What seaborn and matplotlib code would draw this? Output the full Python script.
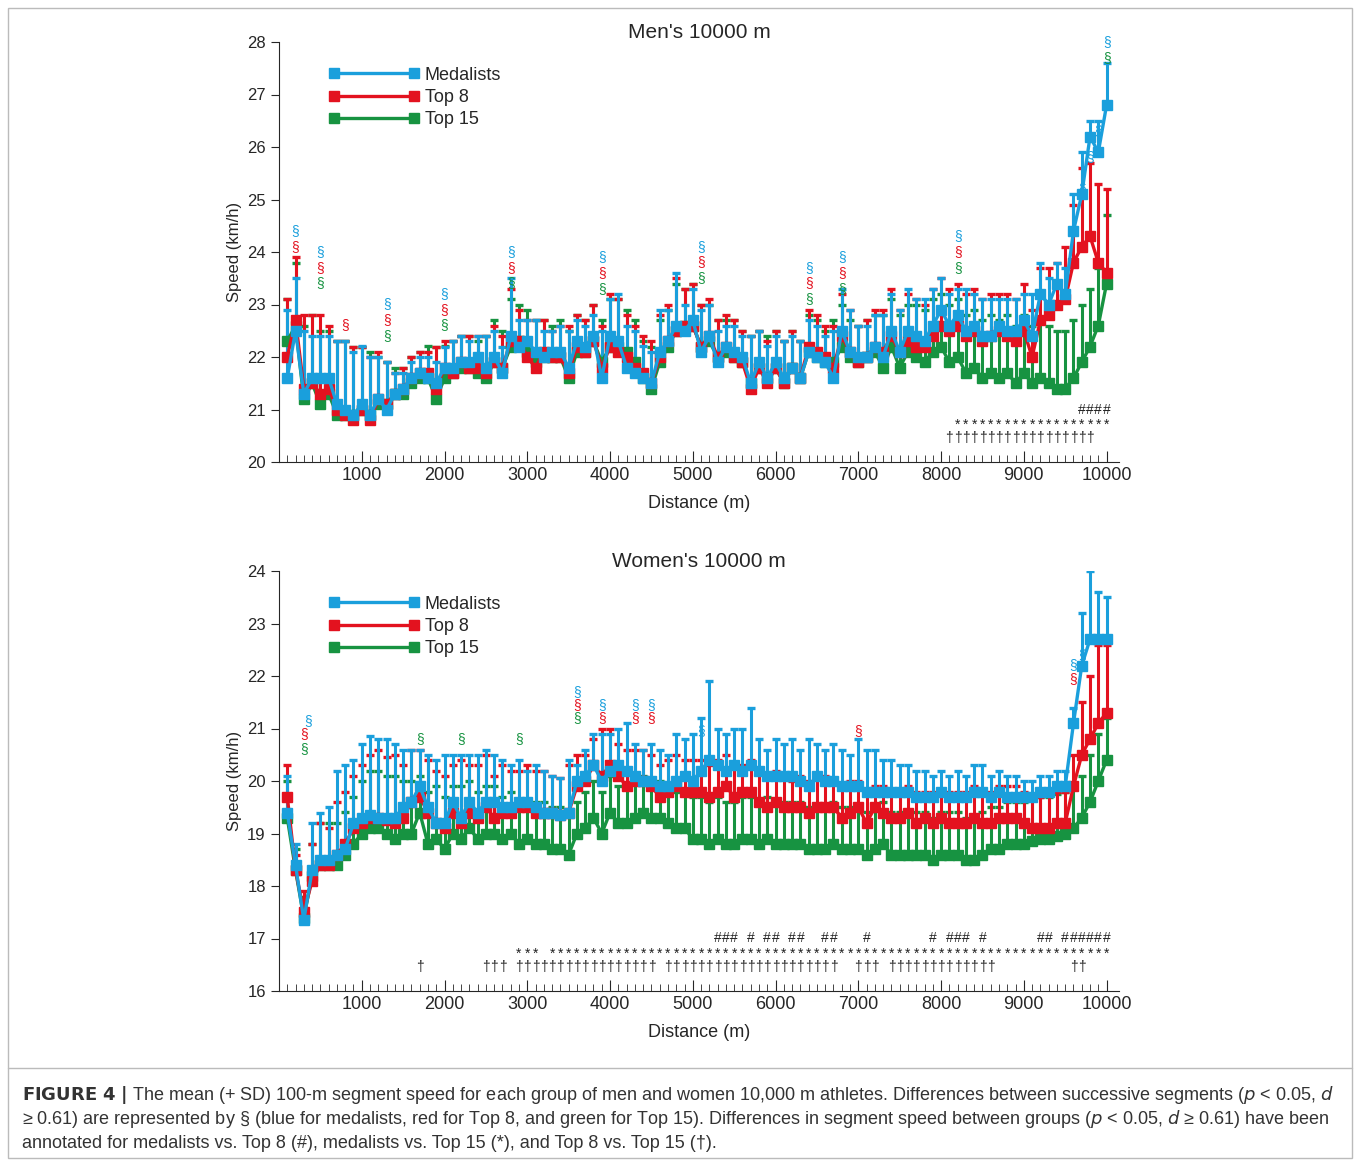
import numpy as np
import matplotlib
matplotlib.use("Agg")
import matplotlib.pyplot as plt
import seaborn as sns
from matplotlib.patches import Rectangle

# =============================
# DATA
# =============================
distance = list(range(100, 10001, 100))

men_med = [21.6, 22.5, 21.3, 21.6, 21.6, 21.6, 21.1, 21.0, 20.9, 21.1,
           20.9, 21.2, 21.0, 21.3, 21.4, 21.6, 21.7, 21.6, 21.5, 21.8,
           21.8, 21.9, 21.9, 22.0, 21.8, 22.0, 21.7, 22.4, 22.2, 22.3,
           22.1, 22.0, 22.1, 22.1, 21.8, 22.3, 22.2, 22.4, 21.6, 22.4,
           22.3, 21.8, 21.7, 21.6, 21.5, 22.1, 22.3, 22.6, 22.5, 22.7,
           22.1, 22.4, 21.9, 22.2, 22.1, 22.0, 21.5, 21.9, 21.6, 21.9,
           21.6, 21.8, 21.6, 22.1, 22.0, 21.9, 21.6, 22.5, 22.1, 22.0,
           22.0, 22.2, 22.0, 22.5, 22.1, 22.5, 22.4, 22.3, 22.6, 22.9,
           22.6, 22.8, 22.5, 22.6, 22.4, 22.4, 22.6, 22.5, 22.5, 22.7,
           22.4, 23.2, 23.0, 23.4, 23.2, 24.4, 25.1, 26.2, 25.9, 26.8]
men_top8 = [22.0, 22.7, 21.4, 21.5, 21.3, 21.4, 21.0, 20.9, 20.8, 21.0,
            20.8, 21.2, 21.1, 21.3, 21.4, 21.6, 21.7, 21.7, 21.4, 21.8,
            21.7, 21.9, 21.8, 21.8, 21.7, 21.9, 21.8, 22.3, 22.3, 22.0,
            21.8, 22.1, 22.0, 22.0, 21.7, 22.2, 22.1, 22.3, 21.8, 22.2,
            22.1, 22.0, 21.8, 21.7, 21.5, 22.0, 22.3, 22.5, 22.6, 22.6,
            22.2, 22.4, 22.0, 22.2, 22.0, 21.9, 21.4, 21.8, 21.5, 21.8,
            21.5, 21.8, 21.6, 22.2, 22.1, 22.0, 21.8, 22.4, 22.1, 21.9,
            22.0, 22.2, 22.1, 22.4, 22.1, 22.3, 22.2, 22.2, 22.4, 22.6,
            22.5, 22.6, 22.4, 22.5, 22.3, 22.4, 22.5, 22.4, 22.3, 22.5,
            22.0, 22.7, 22.8, 23.0, 23.1, 23.8, 24.1, 24.3, 23.8, 23.6]
men_top15 = [22.3, 22.6, 21.2, 21.5, 21.1, 21.3, 20.9, 20.9, 20.9, 21.0,
             20.9, 21.1, 21.1, 21.3, 21.3, 21.5, 21.6, 21.6, 21.2, 21.6,
             21.7, 21.8, 21.8, 21.7, 21.6, 21.9, 21.8, 22.2, 22.3, 22.1,
             21.9, 22.0, 22.0, 22.0, 21.6, 22.1, 22.1, 22.3, 21.9, 22.2,
             22.2, 22.1, 21.9, 21.6, 21.4, 21.9, 22.2, 22.5, 22.6, 22.6,
             22.2, 22.3, 22.0, 22.1, 22.0, 21.9, 21.5, 21.8, 21.6, 21.8,
             21.5, 21.8, 21.6, 22.1, 22.0, 21.9, 21.9, 22.2, 22.0, 21.9,
             22.0, 22.1, 21.8, 22.2, 21.8, 22.1, 22.0, 21.9, 22.1, 22.2,
             21.9, 22.0, 21.7, 21.8, 21.6, 21.7, 21.6, 21.7, 21.5, 21.7,
             21.5, 21.6, 21.5, 21.4, 21.4, 21.6, 21.9, 22.2, 22.6, 23.4]
men_sd_med = [1.3, 1.0, 1.2, 0.8, 0.8, 0.8, 1.2, 1.3, 1.2, 1.1,
              1.1, 0.8, 0.9, 0.4, 0.3, 0.3, 0.3, 0.4, 0.4, 0.4,
              0.5, 0.5, 0.4, 0.4, 0.6, 0.5, 0.5, 1.1, 0.5, 0.4,
              0.6, 0.5, 0.4, 0.5, 0.7, 0.4, 0.4, 0.4, 0.9, 0.7,
              0.9, 0.8, 0.8, 0.6, 0.6, 0.8, 0.6, 1.0, 0.5, 0.6,
              0.8, 0.6, 0.6, 0.4, 0.5, 0.4, 0.9, 0.6, 0.6, 0.5,
              0.7, 0.6, 0.7, 0.6, 0.6, 0.5, 0.9, 0.8, 0.8, 0.6,
              0.6, 0.6, 0.8, 0.7, 0.8, 0.8, 0.7, 0.8, 0.7, 0.6,
              0.6, 0.5, 0.8, 0.6, 0.7, 0.7, 0.5, 0.6, 0.6, 0.5,
              0.8, 0.6, 0.5, 0.4, 0.5, 0.7, 0.8, 0.3, 0.6, 0.8]
men_sd_top8 = [1.1, 1.2, 1.4, 1.3, 1.5, 1.2, 1.3, 1.4, 1.4, 1.2,
               1.2, 0.9, 0.8, 0.4, 0.4, 0.4, 0.4, 0.4, 0.8, 0.5,
               0.6, 0.5, 0.6, 0.6, 0.7, 0.7, 0.6, 1.0, 0.6, 0.7,
               0.9, 0.6, 0.5, 0.6, 0.9, 0.6, 0.6, 0.7, 0.8, 1.0,
               1.0, 0.8, 0.8, 0.7, 0.8, 0.8, 0.7, 1.0, 0.7, 0.8,
               0.8, 0.7, 0.7, 0.6, 0.7, 0.6, 1.0, 0.7, 0.8, 0.7,
               0.8, 0.7, 0.7, 0.7, 0.7, 0.6, 0.8, 0.8, 0.8, 0.7,
               0.7, 0.7, 0.8, 0.9, 0.8, 0.9, 0.9, 0.8, 0.9, 0.9,
               0.8, 0.8, 0.8, 0.8, 0.8, 0.8, 0.7, 0.8, 0.8, 0.9,
               0.9, 1.0, 0.9, 0.8, 1.0, 1.1, 1.5, 1.4, 1.5, 1.6]
men_sd_top15 = [0.8, 1.2, 1.4, 1.3, 1.4, 1.2, 1.4, 1.4, 1.3, 1.2,
                1.2, 0.9, 0.8, 0.5, 0.5, 0.5, 0.5, 0.6, 1.0, 0.6,
                0.6, 0.6, 0.6, 0.6, 0.8, 0.8, 0.7, 0.9, 0.7, 0.8,
                0.8, 0.7, 0.6, 0.7, 0.9, 0.7, 0.6, 0.7, 0.8, 0.9,
                0.9, 0.8, 0.8, 0.7, 0.8, 0.8, 0.7, 0.9, 0.7, 0.8,
                0.8, 0.7, 0.7, 0.6, 0.7, 0.6, 0.9, 0.7, 0.8, 0.7,
                0.8, 0.7, 0.7, 0.7, 0.7, 0.6, 0.8, 0.8, 0.7, 0.7,
                0.7, 0.7, 1.0, 0.9, 1.0, 0.9, 1.0, 1.0, 1.0, 1.0,
                1.1, 1.1, 1.1, 1.1, 1.1, 1.1, 1.1, 1.1, 1.1, 1.1,
                1.1, 1.1, 1.1, 1.1, 1.1, 1.1, 1.1, 1.1, 1.1, 1.3]

women_med = [19.4, 18.4, 17.35, 18.3, 18.5, 18.5, 18.6, 18.7, 19.2, 19.3,
             19.35, 19.3, 19.3, 19.3, 19.5, 19.6, 19.9, 19.5, 19.2, 19.2,
             19.6, 19.3, 19.6, 19.4, 19.6, 19.6, 19.5, 19.5, 19.6, 19.6,
             19.5, 19.4, 19.4, 19.35, 19.4, 20.0, 20.1, 20.3, 20.0, 20.2,
             20.3, 20.2, 20.1, 20.0, 20.0, 19.9, 19.9, 20.0, 20.1, 20.0,
             20.2, 20.4, 20.3, 20.2, 20.3, 20.2, 20.3, 20.2, 20.1, 20.1,
             20.1, 20.1, 20.0, 19.9, 20.1, 20.0, 20.0, 19.9, 19.9, 19.9,
             19.8, 19.8, 19.8, 19.8, 19.8, 19.8, 19.7, 19.7, 19.7, 19.8,
             19.7, 19.7, 19.7, 19.8, 19.8, 19.7, 19.8, 19.7, 19.7, 19.7,
             19.7, 19.8, 19.8, 19.9, 19.9, 21.1, 22.2, 22.7, 22.7, 22.7]
women_top8 = [19.7, 18.3, 17.5, 18.1, 18.4, 18.4, 18.6, 18.8, 19.1, 19.2,
              19.3, 19.3, 19.25, 19.2, 19.3, 19.6, 19.7, 19.4, 19.2, 19.1,
              19.4, 19.2, 19.4, 19.3, 19.5, 19.3, 19.4, 19.4, 19.5, 19.5,
              19.4, 19.4, 19.4, 19.35, 19.4, 19.9, 20.0, 20.3, 20.1, 20.3,
              20.1, 19.9, 20.0, 20.0, 19.9, 19.7, 19.8, 19.9, 19.8, 19.8,
              19.8, 19.7, 19.8, 19.9, 19.7, 19.8, 19.8, 19.6, 19.5, 19.6,
              19.5, 19.5, 19.5, 19.4, 19.5, 19.5, 19.5, 19.3, 19.4, 19.5,
              19.2, 19.5, 19.4, 19.3, 19.3, 19.4, 19.2, 19.3, 19.2, 19.3,
              19.2, 19.2, 19.2, 19.3, 19.2, 19.2, 19.3, 19.3, 19.3, 19.2,
              19.1, 19.1, 19.1, 19.2, 19.2, 19.9, 20.5, 20.8, 21.1, 21.3]
women_top15 = [19.3, 18.3, 17.4, 18.2, 18.4, 18.4, 18.4, 18.6, 18.8, 19.0,
               19.1, 19.1, 19.0, 18.9, 19.0, 19.0, 19.4, 18.8, 18.9, 18.7,
               19.0, 18.9, 19.1, 18.9, 19.0, 19.0, 18.9, 19.0, 18.8, 18.9,
               18.8, 18.8, 18.7, 18.7, 18.6, 19.0, 19.1, 19.3, 19.0, 19.4,
               19.2, 19.2, 19.3, 19.4, 19.3, 19.3, 19.2, 19.1, 19.1, 18.9,
               18.9, 18.8, 18.9, 18.8, 18.8, 18.9, 18.9, 18.8, 18.9, 18.8,
               18.8, 18.8, 18.8, 18.7, 18.7, 18.7, 18.8, 18.7, 18.7, 18.7,
               18.6, 18.7, 18.8, 18.6, 18.6, 18.6, 18.6, 18.6, 18.5, 18.6,
               18.6, 18.6, 18.5, 18.5, 18.6, 18.7, 18.7, 18.8, 18.8, 18.8,
               18.85, 18.9, 18.9, 18.95, 19.0, 19.1, 19.3, 19.6, 20.0, 20.4]
women_sd_med = [0.7, 0.4, 0.0, 0.9, 0.9, 1.0, 1.6, 1.6, 1.2, 1.4,
                1.5, 1.5, 1.5, 1.4, 1.1, 1.0, 0.7, 1.0, 1.2, 1.3,
                0.9, 1.2, 0.9, 1.1, 1.0, 0.9, 0.9, 0.8, 0.8, 0.6,
                0.8, 0.8, 0.7, 0.7, 1.0, 0.3, 0.5, 0.6, 0.9, 0.7,
                0.7, 0.9, 0.6, 0.6, 0.7, 0.7, 0.6, 0.9, 0.7, 0.9,
                1.0, 1.5, 0.7, 0.7, 0.7, 0.8, 1.1, 0.6, 0.5, 0.7,
                0.6, 0.7, 0.6, 0.9, 0.6, 0.6, 0.7, 0.7, 0.6, 0.9,
                0.8, 0.8, 0.6, 0.6, 0.5, 0.5, 0.5, 0.5, 0.4, 0.4,
                0.4, 0.5, 0.4, 0.5, 0.5, 0.4, 0.4, 0.4, 0.4, 0.3,
                0.3, 0.3, 0.3, 0.3, 0.3, 0.3, 1.0, 1.3, 0.9, 0.8]
women_sd_top8 = [0.6, 0.3, 0.4, 0.7, 0.8, 0.7, 1.0, 1.0, 1.0, 1.1,
                 1.2, 1.3, 1.2, 1.3, 1.0, 1.0, 0.9, 1.0, 1.0, 1.0,
                 0.9, 1.2, 0.9, 1.0, 1.0, 0.8, 0.9, 0.8, 0.7, 0.8,
                 0.8, 0.8, 0.7, 0.7, 0.9, 0.6, 0.5, 0.5, 0.9, 0.7,
                 0.6, 0.7, 0.6, 0.6, 0.6, 0.6, 0.6, 0.6, 0.6, 0.6,
                 0.6, 0.6, 0.6, 0.6, 0.6, 0.5, 0.6, 0.6, 0.6, 0.6,
                 0.6, 0.5, 0.6, 0.6, 0.6, 0.6, 0.5, 0.6, 0.6, 0.5,
                 0.6, 0.4, 0.5, 0.5, 0.5, 0.5, 0.6, 0.5, 0.6, 0.5,
                 0.6, 0.6, 0.6, 0.6, 0.6, 0.6, 0.6, 0.6, 0.6, 0.6,
                 0.6, 0.6, 0.7, 0.6, 0.6, 0.6, 1.0, 1.2, 1.5, 1.3]
women_sd_top15 = [0.7, 0.4, 0.4, 0.6, 0.8, 0.8, 0.8, 0.8, 0.9, 1.0,
                  1.1, 1.1, 1.1, 1.2, 1.0, 1.0, 0.7, 1.0, 1.0, 1.0,
                  0.9, 1.0, 0.9, 0.9, 0.9, 0.9, 0.8, 0.8, 0.7, 0.7,
                  0.8, 0.8, 0.8, 0.8, 0.8, 0.6, 0.7, 0.7, 0.8, 0.7,
                  0.7, 0.7, 0.7, 0.7, 0.7, 0.7, 0.7, 0.7, 0.7, 0.8,
                  0.8, 0.8, 0.8, 0.8, 0.8, 0.8, 0.8, 0.8, 0.8, 0.8,
                  0.8, 0.8, 0.8, 0.8, 0.8, 0.8, 0.8, 0.8, 0.8, 0.8,
                  0.8, 0.8, 0.8, 0.8, 0.8, 0.8, 0.8, 0.8, 0.8, 0.8,
                  0.8, 0.8, 0.8, 0.8, 0.8, 0.8, 0.8, 0.8, 0.8, 0.8,
                  0.8, 0.8, 0.8, 0.8, 0.8, 0.8, 0.8, 0.9, 0.9, 0.8]

groups = ["Medalists", "Top 8", "Top 15"]
colors = {"Medalists": "#1a9fdc", "Top 8": "#e3121f", "Top 15": "#179341"}

# § markers: (distance, group, height) per panel
men_sect = [(200, "Medalists", 24.4), (200, "Top 8", 24.1), (500, "Medalists", 24.0), (500, "Top 8", 23.7), (500, "Top 15", 23.4),
            (800, "Top 8", 22.6), (1300, "Medalists", 23.0), (1300, "Top 8", 22.7), (1300, "Top 15", 22.4),
            (2000, "Medalists", 23.2), (2000, "Top 8", 22.9), (2000, "Top 15", 22.6),
            (2800, "Medalists", 24.0), (2800, "Top 8", 23.7), (2800, "Top 15", 23.4),
            (3900, "Medalists", 23.9), (3900, "Top 8", 23.6), (3900, "Top 15", 23.3),
            (5100, "Medalists", 24.1), (5100, "Top 8", 23.8), (5100, "Top 15", 23.5),
            (6400, "Medalists", 23.7), (6400, "Top 8", 23.4), (6400, "Top 15", 23.1),
            (6800, "Medalists", 23.9), (6800, "Top 8", 23.6), (6800, "Top 15", 23.3),
            (8200, "Medalists", 24.3), (8200, "Top 8", 24.0), (8200, "Top 15", 23.7),
            (9700, "Medalists", 25.2), (9800, "Medalists", 25.8), (9900, "Medalists", 26.3),
            (10000, "Medalists", 28.0), (10000, "Top 15", 27.7)]
women_sect = [(350, "Medalists", 21.15), (300, "Top 8", 20.9), (300, "Top 15", 20.6),
              (1700, "Top 15", 20.8), (2200, "Top 15", 20.8), (2900, "Top 15", 20.8),
              (3600, "Medalists", 21.7), (3600, "Top 8", 21.45), (3600, "Top 15", 21.2),
              (3900, "Medalists", 21.45), (3900, "Top 8", 21.2),
              (4300, "Medalists", 21.45), (4300, "Top 8", 21.2),
              (4500, "Medalists", 21.45), (4500, "Top 8", 21.2),
              (5100, "Medalists", 20.95), (7000, "Top 8", 20.95),
              (9700, "Medalists", 22.4), (9600, "Medalists", 22.2), (9600, "Top 8", 21.95)]

# between-group differences: segments flagged with #, *, †
men_hash = [9700, 9800, 9900, 10000]
men_star = list(range(8200, 10001, 100))
men_dagger = list(range(8100, 9801, 100))
women_hash = ([5300, 5400, 5500, 5700, 5900, 6000, 6200, 6300, 6600, 6700, 7100, 7900,
               8100, 8200, 8300, 8500, 9200, 9300] + list(range(9500, 10001, 100)))
women_star = [2900, 3000, 3100] + list(range(3300, 10001, 100))
women_dagger = ([1700, 2500, 2600, 2700] + list(range(2900, 4501, 100)) + list(range(4700, 6701, 100))
                + [7000, 7100, 7200] + list(range(7400, 8601, 100)) + [9600, 9700])

sns.set_style("ticks")
plt.rcParams["font.family"] = ["Liberation Sans", "DejaVu Sans"]

fig = plt.figure(figsize=(13.6, 11.63), dpi=100)


def panel(ax, data, sds, ylim, title, sect, marks):
    for g in ["Top 15", "Top 8", "Medalists"]:
        y = np.array(data[g])
        sd = np.array(sds[g])
        ax.errorbar(distance, y, yerr=[np.zeros_like(sd), sd], color=colors[g],
                    lw=2.4, marker="s", ms=7, capsize=3, capthick=2.4, elinewidth=2.2,
                    label=g)
    for d, g, h in sect:
        ax.text(d, h, "§", color=colors[g], ha="center", va="center", fontsize=10)
    for h, xs, s in marks:
        for x in xs:
            ax.text(x, h, s, ha="center", va="center", fontsize=10, color="#222222")
    ax.set_xlim(0, 10150)
    ax.set_ylim(*ylim)
    ax.set_xticks(range(1000, 10001, 1000))
    ax.set_xticks(range(100, 10001, 100), minor=True)
    ax.tick_params(axis="x", which="both", direction="in", length=5, labelsize=13)
    ax.tick_params(axis="x", which="major", length=8)
    ax.tick_params(axis="y", labelsize=12, length=6)
    ax.set_xlabel("Distance (m)", fontsize=13, labelpad=8)
    ax.set_ylabel("Speed (km/h)", fontsize=12)
    ax.set_title(title, fontsize=15, pad=-4)
    sns.despine(ax=ax)
    handles, labels = ax.get_legend_handles_labels()
    order = [labels.index(g) for g in groups]
    ax.legend([handles[i][0] for i in order], groups, loc="upper left",
              bbox_to_anchor=(0.04, 0.98), frameon=False, fontsize=13,
              numpoints=2, handlelength=5, handletextpad=0.3, labelspacing=0.3)


ax1 = fig.add_axes([279 / 1360, 1 - 462 / 1163, 840 / 1360, 420 / 1163])
panel(ax1, {"Medalists": men_med, "Top 8": men_top8, "Top 15": men_top15},
      {"Medalists": men_sd_med, "Top 8": men_sd_top8, "Top 15": men_sd_top15},
      (20, 28), "Men's 10000 m", men_sect,
      [(21.0, men_hash, "#"), (20.7, men_star, "*"), (20.45, men_dagger, "†")])

ax2 = fig.add_axes([279 / 1360, 1 - 991 / 1163, 840 / 1360, 420 / 1163])
panel(ax2, {"Medalists": women_med, "Top 8": women_top8, "Top 15": women_top15},
      {"Medalists": women_sd_med, "Top 8": women_sd_top8, "Top 15": women_sd_top15},
      (16, 24), "Women's 10000 m", women_sect,
      [(17.0, women_hash, "#"), (16.7, women_star, "*"), (16.45, women_dagger, "†")])

# caption box
fig.patches.append(Rectangle((8 / 1360, 5 / 1163), 1344 / 1360, 1150 / 1163,
                             transform=fig.transFigure, fill=False, ec="#bbbbbb", lw=1))
fig.add_artist(plt.Line2D([8 / 1360, 1352 / 1360], [1 - 1068 / 1163] * 2, color="#bbbbbb", lw=1))
cap_col = "#333333"
fig.text(22 / 1360, 1 - 1095 / 1163,
         r"$\bf{FIGURE\ 4\ |}$ The mean (+ SD) 100-m segment speed for each group of men and women 10,000 m athletes. "
         r"Differences between successive segments ($p$ < 0.05, $d$",
         fontsize=13, color=cap_col, va="center")
fig.text(22 / 1360, 1 - 1119 / 1163,
         r"≥ 0.61) are represented by § (blue for medalists, red for Top 8, and green for Top 15). "
         r"Differences in segment speed between groups ($p$ < 0.05, $d$ ≥ 0.61) have been",
         fontsize=13, color=cap_col, va="center")
fig.text(22 / 1360, 1 - 1143 / 1163,
         r"annotated for medalists vs. Top 8 (#), medalists vs. Top 15 (*), and Top 8 vs. Top 15 (†).",
         fontsize=13, color=cap_col, va="center")

fig.savefig("out.png", dpi=100)
